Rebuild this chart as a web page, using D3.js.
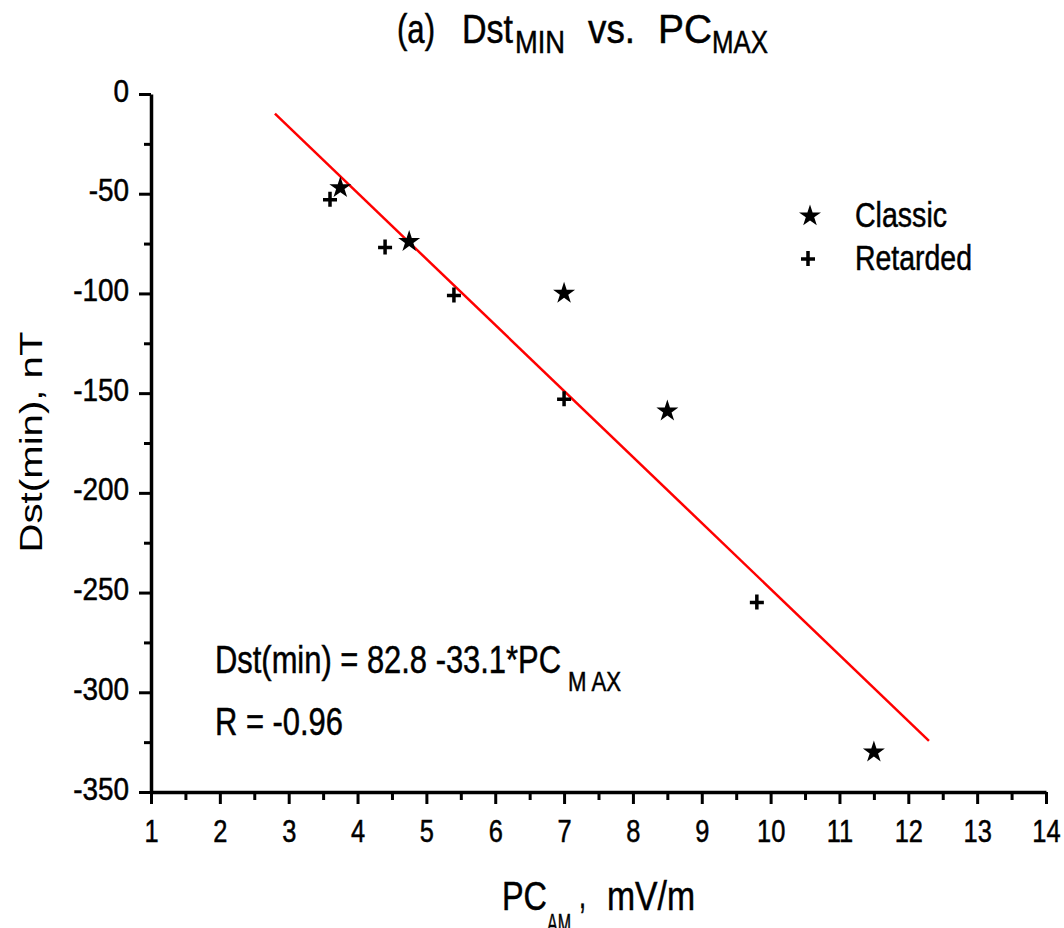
<!DOCTYPE html>
<html>
<head>
<meta charset="utf-8">
<script src="https://cdn.jsdelivr.net/npm/d3@7"></script>
<style>
  html, body { margin: 0; padding: 0; background: #fff; }
  svg { display: block; }
  text { font-family: "Liberation Sans", Arial, sans-serif; fill: #000; stroke: #000; stroke-width: 0.5px; }
  text.thin { stroke: none; }
</style>
</head>
<body>
<svg id="chart" width="1064" height="928"></svg>
<script>
// Storm data: minimum Dst against maximum PC index
const classicPC = [3.75, 4.75, 7.0, 8.5, 11.5];
const classicDst = [-47, -74, -100, -159, -330];
const retardedPC = [3.6, 4.4, 5.4, 7.0, 9.8];
const retardedDst = [-53, -77, -101, -153, -255];

// Linear regression Dst(min) = a + b * PC
const fitIntercept = 82.8;
const fitSlope = -33.1;
const fitRange = [2.8, 12.3];

const xTicks = [1, 2, 3, 4, 5, 6, 7, 8, 9, 10, 11, 12, 13, 14];
const xMinor = d3.range(1.5, 14, 1);
const yTicks = [0, -50, -100, -150, -200, -250, -300, -350];
const yMinor = d3.range(-25, -350, -50);

const svg = d3.select("#chart");

const x = d3.scaleLinear().domain([1, 14]).range([151, 1046]);
const y = d3.scaleLinear().domain([0, -350]).range([94, 792]);

// Squeeze text horizontally to a fraction of its natural width
function squeeze(sel, k) {
  sel.each(function () {
    const w = this.getComputedTextLength();
    d3.select(this).attr("textLength", w * k).attr("lengthAdjust", "spacingAndGlyphs");
  });
}
// Place a text run with a fixed width
function label(txt, px, py, size, width, anchor) {
  return svg.append("text")
    .attr("x", px).attr("y", py)
    .attr("font-size", size)
    .attr("text-anchor", anchor || "start")
    .attr("textLength", width)
    .attr("lengthAdjust", "spacingAndGlyphs")
    .text(txt);
}

const plain = d => String(d);

// Minor ticks
svg.append("g")
  .attr("transform", `translate(0,${y(-350)})`)
  .call(d3.axisBottom(x).tickValues(xMinor).tickSize(8).tickFormat(""))
  .call(g => g.select(".domain").remove())
  .call(g => g.selectAll("line").attr("stroke", "#000").attr("stroke-width", 3));
svg.append("g")
  .attr("transform", `translate(${x(1)},0)`)
  .call(d3.axisLeft(y).tickValues(yMinor).tickSize(7).tickFormat(""))
  .call(g => g.select(".domain").remove())
  .call(g => g.selectAll("line").attr("stroke", "#000").attr("stroke-width", 3));

// Major axes
const xAxis = svg.append("g")
  .attr("transform", `translate(0,${y(-350)})`)
  .call(d3.axisBottom(x).tickValues(xTicks).tickSize(12).tickSizeOuter(0).tickFormat(plain));
xAxis.select(".domain").attr("stroke", "#000").attr("stroke-width", 3.5);
xAxis.selectAll("line").attr("stroke", "#000").attr("stroke-width", 3);
xAxis.selectAll("text")
  .attr("font-size", 31).attr("font-family", null)
  .attr("y", 50).attr("dy", 0)
  .attr("fill", "#000");
squeeze(xAxis.selectAll("text"), 0.82);

const yAxis = svg.append("g")
  .attr("transform", `translate(${x(1)},0)`)
  .call(d3.axisLeft(y).tickValues(yTicks).tickSize(12).tickSizeOuter(0).tickFormat(plain));
yAxis.select(".domain").attr("stroke", "#000").attr("stroke-width", 3.5);
yAxis.selectAll("line").attr("stroke", "#000").attr("stroke-width", 3);
yAxis.selectAll("text")
  .attr("font-size", 31).attr("font-family", null)
  .attr("x", -22).attr("dy", "0.23em")
  .attr("fill", "#000");
squeeze(yAxis.selectAll("text"), 0.9);

// Regression line
svg.append("line")
  .attr("x1", x(fitRange[0])).attr("y1", y(fitIntercept + fitSlope * fitRange[0]))
  .attr("x2", x(fitRange[1])).attr("y2", y(fitIntercept + fitSlope * fitRange[1]))
  .attr("stroke", "#ff0000").attr("stroke-width", 2.5);

// Markers
const star = d3.symbol(d3.symbolStar, 150)();
const plus = "M-7,0H7M0,-8V7";

svg.append("g").selectAll("path")
  .data(d3.zip(classicPC, classicDst))
  .join("path")
  .attr("transform", d => `translate(${x(d[0])},${y(d[1])})`)
  .attr("d", star).attr("fill", "#000");

svg.append("g").selectAll("path")
  .data(d3.zip(retardedPC, retardedDst))
  .join("path")
  .attr("transform", d => `translate(${x(d[0])},${y(d[1])})`)
  .attr("d", plus).attr("fill", "none").attr("stroke", "#000").attr("stroke-width", 3.5);

// Legend
svg.append("path").attr("transform", "translate(810,216)").attr("d", star).attr("fill", "#000");
svg.append("path").attr("transform", "translate(808,259)").attr("d", plus)
  .attr("fill", "none").attr("stroke", "#000").attr("stroke-width", 3.5);
label("Classic", 855, 227, 35, 92);
label("Retarded", 855, 270, 35, 117);

// Title
label("(a)", 397, 43, 40, 38);
label("Dst", 462, 43, 40, 51);
label("MIN", 515, 53, 32, 50);
label("vs.", 588, 43, 40, 47);
label("PC", 658, 43, 40, 54);
label("MAX", 712, 53, 32, 56);

// Regression annotation
label("Dst(min) = 82.8 -33.1*PC", 215, 673, 38, 346);
label("M AX", 568, 691, 28, 53);
label("R = -0.96", 215, 735, 38, 128);

// Axis titles
label("PC", 502, 910, 40, 45);
label("AM", 547, 933, 28, 24);
label(",", 579, 908, 40, 7);
label("mV/m", 607, 910, 40, 88);

svg.append("text")
  .attr("class", "thin")
  .attr("transform", "translate(42,442) rotate(-90)")
  .attr("text-anchor", "middle")
  .attr("font-size", 31)
  .attr("textLength", 221)
  .attr("lengthAdjust", "spacingAndGlyphs")
  .text("Dst(min),  nT");
</script>
</body>
</html>
